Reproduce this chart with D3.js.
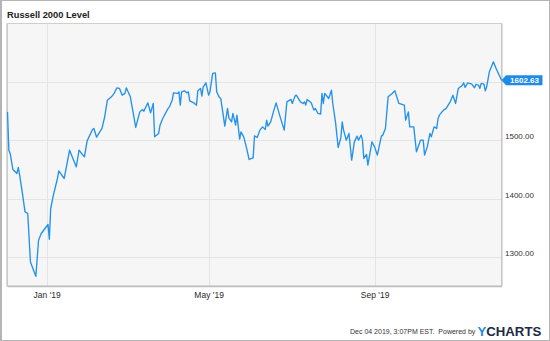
<!DOCTYPE html>
<html>
<head>
<meta charset="utf-8">
<script src="https://cdn.jsdelivr.net/npm/d3@7"></script>
<style>
  html, body { margin: 0; padding: 0; background: #fff; }
  svg { display: block; font-family: "Liberation Sans", Arial, sans-serif; }
</style>
</head>
<body>
<svg id="chart" width="550" height="341"></svg>
<script>
const title = "Russell 2000 Level";
const dates = [
  "2018-12-03","2018-12-04","2018-12-05","2018-12-07","2018-12-10","2018-12-11","2018-12-12","2018-12-14","2018-12-16","2018-12-18",
  "2018-12-20","2018-12-24","2018-12-26","2018-12-28","2019-01-02","2019-01-03","2019-01-04","2019-01-06","2019-01-09","2019-01-10",
  "2019-01-14","2019-01-18","2019-01-23","2019-01-25","2019-01-29","2019-01-31","2019-02-04","2019-02-05","2019-02-07","2019-02-11",
  "2019-02-13","2019-02-15","2019-02-18","2019-02-20","2019-02-22","2019-02-24","2019-02-26","2019-02-28","2019-03-01","2019-03-04",
  "2019-03-06","2019-03-08","2019-03-11","2019-03-13","2019-03-14","2019-03-17","2019-03-19","2019-03-21","2019-03-22","2019-03-25",
  "2019-03-26","2019-03-28","2019-04-01","2019-04-02","2019-04-04","2019-04-05","2019-04-08","2019-04-09","2019-04-10","2019-04-11",
  "2019-04-13","2019-04-15","2019-04-16","2019-04-17","2019-04-20","2019-04-22","2019-04-23","2019-04-25","2019-04-26","2019-04-27",
  "2019-04-29","2019-05-01","2019-05-02","2019-05-04","2019-05-06","2019-05-07","2019-05-09","2019-05-10","2019-05-13","2019-05-15",
  "2019-05-16","2019-05-18","2019-05-19","2019-05-21","2019-05-22","2019-05-24","2019-05-25","2019-05-27","2019-05-29","2019-05-31",
  "2019-06-03","2019-06-04","2019-06-06","2019-06-08","2019-06-10","2019-06-12","2019-06-13","2019-06-14","2019-06-16","2019-06-18",
  "2019-06-20","2019-06-23","2019-06-26","2019-06-28","2019-07-01","2019-07-02","2019-07-04","2019-07-05","2019-07-08","2019-07-10",
  "2019-07-11","2019-07-12","2019-07-13","2019-07-16","2019-07-18","2019-07-19","2019-07-21","2019-07-23","2019-07-24","2019-07-25",
  "2019-07-26","2019-07-29","2019-07-31","2019-08-01","2019-08-03","2019-08-05","2019-08-07","2019-08-08","2019-08-09","2019-08-11",
  "2019-08-13","2019-08-15","2019-08-17","2019-08-19","2019-08-20","2019-08-22","2019-08-23","2019-08-24","2019-08-26","2019-08-27",
  "2019-08-30","2019-09-01","2019-09-03","2019-09-06","2019-09-07","2019-09-09","2019-09-11","2019-09-14","2019-09-16","2019-09-17",
  "2019-09-19","2019-09-23","2019-09-24","2019-09-26","2019-09-27","2019-09-30","2019-10-02","2019-10-05","2019-10-07","2019-10-08",
  "2019-10-10","2019-10-12","2019-10-13","2019-10-15","2019-10-17","2019-10-18","2019-10-19","2019-10-22","2019-10-24","2019-10-27",
  "2019-10-29","2019-10-31","2019-11-02","2019-11-05","2019-11-06","2019-11-07","2019-11-09","2019-11-12","2019-11-14","2019-11-15",
  "2019-11-17","2019-11-18","2019-11-19","2019-11-21","2019-11-22","2019-11-23","2019-11-25","2019-11-26","2019-11-28","2019-11-30",
  "2019-12-04"
];
const levels = [
  1548.5,1482.8,1477.2,1449.7,1442.9,1453.2,1440.0,1409.6,1377.0,1374.3,
  1291.2,1266.7,1328.5,1340.0,1355.4,1330.2,1382.8,1405.7,1434.3,1447.3,
  1434.3,1482.8,1454.2,1482.8,1471.4,1498.8,1518.4,1520.1,1505.1,1520.1,
  1540.0,1568.6,1574.3,1580.1,1589.7,1588.7,1577.2,1580.1,1589.7,1574.3,
  1548.5,1521.8,1548.5,1552.7,1549.7,1564.0,1546.8,1562.9,1505.7,1511.5,
  1525.7,1537.2,1554.4,1557.1,1568.6,1581.1,1580.1,1582.8,1560.0,1582.8,
  1584.6,1581.1,1582.8,1567.4,1564.0,1560.0,1584.6,1588.7,1575.5,1591.4,
  1598.3,1577.2,1582.8,1614.4,1615.4,1582.8,1573.2,1571.5,1524.0,1554.4,
  1538.2,1531.4,1545.8,1525.7,1542.9,1501.7,1514.2,1505.7,1487.5,1466.9,
  1469.6,1507.4,1504.6,1517.2,1522.8,1518.4,1534.3,1524.0,1531.4,1548.5,
  1564.0,1540.0,1517.2,1565.7,1569.8,1562.9,1575.5,1577.2,1565.7,1562.9,
  1565.7,1560.0,1569.8,1564.0,1551.5,1554.4,1545.8,1544.6,1580.1,1562.9,
  1580.1,1571.5,1585.8,1562.9,1531.4,1487.5,1504.6,1531.4,1517.2,1500.0,
  1511.5,1465.7,1497.1,1506.9,1500.0,1508.6,1500.0,1468.6,1475.5,1457.1,
  1497.1,1488.5,1474.3,1506.9,1508.6,1520.1,1574.3,1580.1,1584.6,1577.2,
  1562.9,1560.0,1534.3,1548.5,1522.8,1522.8,1479.9,1500.0,1500.0,1474.3,
  1488.5,1511.5,1505.7,1522.8,1520.1,1537.2,1542.9,1551.5,1554.4,1565.7,
  1577.2,1562.9,1588.7,1594.3,1598.3,1590.4,1598.3,1596.1,1589.7,1595.5,
  1594.3,1588.7,1597.3,1596.1,1584.6,1591.4,1617.2,1623.0,1634.3,1623.0,
  1602.63
];
const gridTicks = [1300, 1400, 1500, 1600];
const yLabelTicks = [1300, 1400, 1500];
const xTickDates = ["2019-01-01", "2019-05-01", "2019-09-01"];
const xTickLabels = ["Jan '19", "May '19", "Sep '19"];
const lastLabel = "1602.63";
const footerText = "Dec 04 2019, 3:07PM EST.  Powered by";

const parse = d3.timeParse("%Y-%m-%d");
const data = dates.map((d, i) => ({ date: parse(d), value: levels[i] }));

const svg = d3.select("#chart");
const W = 550, H = 341;
const plot = { left: 7.5, right: 501.5, top: 23.5, bottom: 286 };

// outer frame
svg.append("rect").attr("x", 0).attr("y", 0).attr("width", W).attr("height", H).attr("fill", "#fff");
svg.append("rect").attr("x", 0.5).attr("y", 0.5).attr("width", W - 1).attr("height", H - 1)
  .attr("fill", "none").attr("stroke", "#b5b5b5").attr("stroke-width", 1);
svg.append("line").attr("x1", 1.5).attr("x2", 1.5).attr("y1", 0).attr("y2", H)
  .attr("stroke", "#b5b5b5").attr("stroke-width", 1);

const x = d3.scaleTime()
  .domain([parse("2018-12-03"), parse("2019-12-04")])
  .range([plot.left, plot.right]);
const y = d3.scaleLinear().domain([1250, 1700]).range([plot.bottom, plot.top]);

// plot background
svg.append("rect").attr("x", plot.left).attr("y", plot.top)
  .attr("width", plot.right - plot.left).attr("height", plot.bottom - plot.top)
  .attr("fill", "#f6f6f6");

// horizontal gridlines
svg.append("g").selectAll("line").data(gridTicks).join("line")
  .attr("x1", plot.left).attr("x2", plot.right)
  .attr("y1", d => Math.round(y(d)) + 0.5).attr("y2", d => Math.round(y(d)) + 0.5)
  .attr("stroke", "#e4e4e4").attr("stroke-width", 1);

// vertical gridlines
svg.append("g").selectAll("line").data(xTickDates).join("line")
  .attr("x1", d => Math.round(x(parse(d))) + 0.5).attr("x2", d => Math.round(x(parse(d))) + 0.5)
  .attr("y1", plot.top).attr("y2", plot.bottom)
  .attr("stroke", "#e4e4e4").attr("stroke-width", 1);

// plot frame
svg.append("rect").attr("x", plot.left).attr("y", plot.top)
  .attr("width", plot.right - plot.left).attr("height", plot.bottom - plot.top)
  .attr("fill", "none").attr("stroke", "#cfcfcf").attr("stroke-width", 1);
svg.append("line").attr("x1", plot.left - 0.5).attr("x2", plot.left - 0.5)
  .attr("y1", plot.top).attr("y2", plot.bottom + 0.5).attr("stroke", "#c4c4c4").attr("stroke-width", 1.2);
svg.append("line").attr("x1", plot.left).attr("x2", plot.right + 0.5)
  .attr("y1", plot.bottom + 0.5).attr("y2", plot.bottom + 0.5).attr("stroke", "#bdbdbd").attr("stroke-width", 1.3);
svg.append("line").attr("x1", plot.right + 0.5).attr("x2", plot.right + 0.5)
  .attr("y1", plot.top).attr("y2", plot.bottom).attr("stroke", "#c4c4c4").attr("stroke-width", 1.2);

// y axis labels (right)
const yAxis = d3.axisRight(y).tickValues(yLabelTicks).tickSize(0).tickPadding(0)
  .tickFormat(d3.format(".2f"));
const gy = svg.append("g").attr("transform", `translate(${plot.right + 3.5},-4)`).call(yAxis);
gy.select(".domain").remove();
gy.selectAll("text").attr("font-size", 8).attr("fill", "#333")
  .attr("font-family", "'Liberation Sans', Arial, sans-serif");

// x axis labels
const xAxis = d3.axisBottom(x).tickValues(xTickDates.map(parse)).tickSize(0).tickPadding(0)
  .tickFormat((d, i) => xTickLabels[i]);
const gx = svg.append("g").attr("transform", `translate(0,${plot.bottom + 5.5})`).call(xAxis);
gx.select(".domain").remove();
gx.selectAll("text").attr("font-size", 8.5).attr("fill", "#2a2a2a")
  .attr("font-family", "'Liberation Sans', Arial, sans-serif");

// line
const line = d3.line().x(d => x(d.date)).y(d => y(d.value));
svg.append("path").datum(data).attr("d", line)
  .attr("fill", "none").attr("stroke", "#2491ec").attr("stroke-width", 1.35)
  .attr("stroke-linejoin", "round");

// last value badge
const last = data[data.length - 1];
const bx = x(last.date), by = y(last.value);
const badge = svg.append("g");
badge.append("path")
  .attr("d", `M${bx},${by} L${bx + 4.5},${by - 5} L${bx + 41},${by - 5} L${bx + 41},${by + 5} L${bx + 4.5},${by + 5} Z`)
  .attr("fill", "#1f8be6");
badge.append("text").attr("x", bx + 23).attr("y", by + 3)
  .attr("text-anchor", "middle").attr("font-size", 8).attr("font-weight", "bold")
  .attr("fill", "#fff").text(lastLabel);

// title
svg.append("text").attr("x", 7).attr("y", 18).attr("font-size", 9.3).attr("font-weight", "bold")
  .attr("fill", "#222").text(title);

// footer
svg.append("text").attr("x", 350).attr("y", 334).attr("font-size", 7).attr("fill", "#333")
  .attr("xml:space", "preserve").text(footerText);
const logo = svg.append("text").attr("x", 477.5).attr("y", 335.5).attr("font-size", 13.2)
  .attr("font-weight", "bold");
logo.append("tspan").attr("fill", "#1e8be6").text("Y");
logo.append("tspan").attr("fill", "#1b2a45").text("CHARTS");
</script>
</body>
</html>
